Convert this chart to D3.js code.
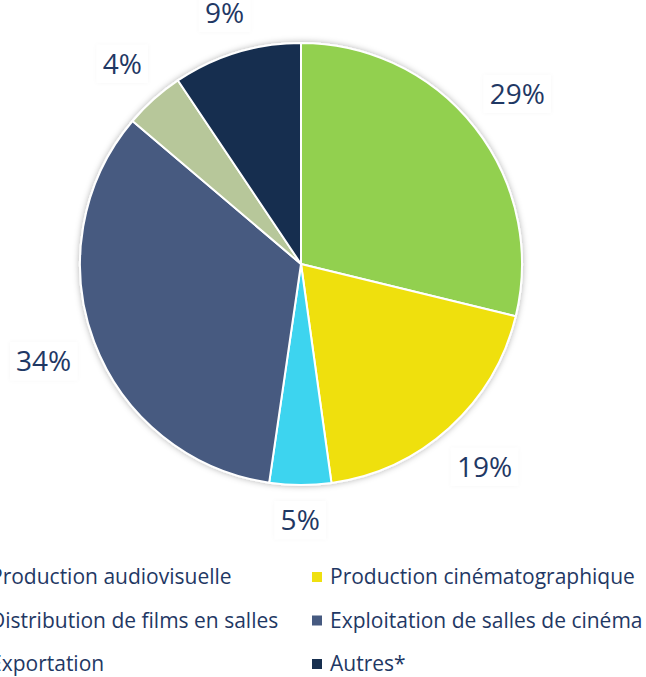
<!DOCTYPE html>
<html>
<head>
<meta charset="utf-8">
<style>
body { margin: 0; background: #fff; }
svg { font-family: "Open Sans", sans-serif; }
.lbl { fill: #1f3864; font-size: 28px; }
.legend text { fill: #1f3864; font-size: 21px; }
</style>
</head>
<body>
<script src="https://cdn.jsdelivr.net/npm/d3@7"></script>
<script>

var categories = ["Production audiovisuelle", "Production cinématographique",
                  "Distribution de films en salles", "Exploitation de salles de cinéma",
                  "Exportation", "Autres*"];
var shares = [28.8, 19.0, 4.5, 33.9, 4.4, 9.4];
var colors = ["#92d050", "#efe010", "#3cd4ef", "#465a80", "#b7c79a", "#172f4f"];

var width = 646, height = 677,
    cx = 301, cy = 264, radius = 221,
    labelGap = 237;   // distance from centre to the near edge of a label box

var svg = d3.select("body").append("svg")
    .attr("width", width)
    .attr("height", height);

var defs = svg.append("defs");
defs.append("filter").attr("id", "shadow")
    .attr("x", "-20%").attr("y", "-20%").attr("width", "140%").attr("height", "140%")
  .append("feDropShadow")
    .attr("dx", 0).attr("dy", 0).attr("stdDeviation", 3)
    .attr("flood-color", "#000").attr("flood-opacity", 0.3);
defs.append("filter").attr("id", "boxshadow")
    .attr("x", "-30%").attr("y", "-30%").attr("width", "160%").attr("height", "160%")
  .append("feDropShadow")
    .attr("dx", 0).attr("dy", 0).attr("stdDeviation", 2)
    .attr("flood-color", "#000").attr("flood-opacity", 0.035);

var color = d3.scaleOrdinal().domain(categories).range(colors);

var pie = d3.pie().sort(null).value(function(d) { return d.v; });
var data = pie(categories.map(function(c, i) { return {name: c, v: shares[i]}; }));

var arc = d3.arc().innerRadius(0).outerRadius(radius);

var g = svg.append("g").attr("transform", "translate(" + cx + "," + cy + ")");

g.append("g").attr("filter", "url(#shadow)")
  .selectAll("path")
  .data(data)
  .enter().append("path")
    .attr("d", arc)
    .attr("fill", function(d) { return color(d.data.name); })
    .attr("stroke", "#fff")
    .attr("stroke-width", 2)
    .attr("stroke-linejoin", "round");

var lbl = g.selectAll(".lblg")
  .data(data)
  .enter().append("g")
    .attr("class", "lblg");

var box = lbl.append("rect")
    .attr("fill", "#fff")
    .attr("filter", "url(#boxshadow)");

var txt = lbl.append("text")
    .attr("class", "lbl")
    .attr("text-anchor", "middle")
    .attr("dy", "0.35em")
    .text(function(d) { return Math.round(d.data.v) + "%"; });

// place each label box just outside the pie, along the slice's middle angle
txt.each(function(d) {
  var w = this.getComputedTextLength() + 12, h = 38;
  var a = (d.startAngle + d.endAngle) / 2;
  var sx = Math.sin(a), cy_ = -Math.cos(a);
  var r = labelGap + Math.abs(sx) * w / 2 + Math.abs(cy_) * h / 2;
  d.box = {w: w, h: h, x: sx * r, y: cy_ * r};
});

lbl.attr("transform", function(d) { return "translate(" + d.box.x + "," + d.box.y + ")"; });
box.attr("x", function(d) { return -d.box.w / 2; })
   .attr("y", function(d) { return -d.box.h / 2; })
   .attr("width", function(d) { return d.box.w; })
   .attr("height", function(d) { return d.box.h; });

// legend: two columns, row-major
var col = d3.scaleOrdinal().domain([0, 1]).range([-10, 330]);
var row = d3.scalePoint().domain([0, 1, 2]).range([577, 664]);

var legend = svg.append("g").attr("class", "legend")
  .selectAll("g")
  .data(categories)
  .enter().append("g")
    .attr("transform", function(d, i) { return "translate(" + col(i % 2) + "," + row(Math.floor(i / 2)) + ")"; });

legend.append("rect")
    .attr("x", -18).attr("y", -5)
    .attr("width", 10).attr("height", 10)
    .attr("fill", function(d) { return color(d); });

legend.append("text")
    .attr("dy", "0.35em")
    .text(function(d) { return d; });

</script>
</body>
</html>
